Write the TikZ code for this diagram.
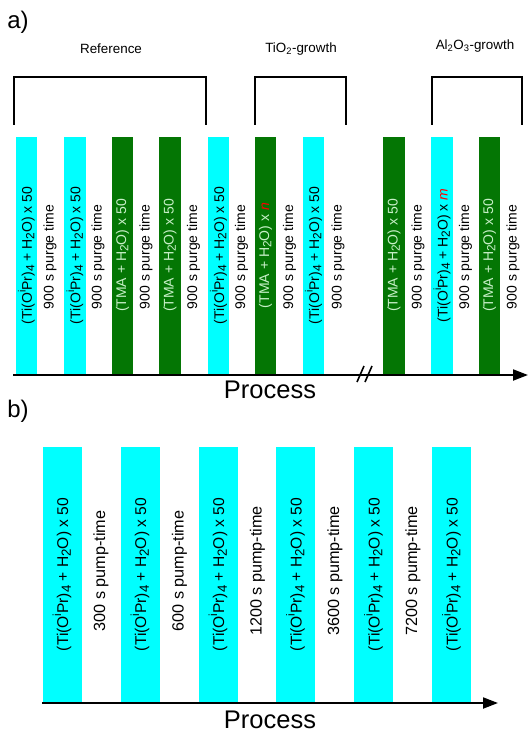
\documentclass[tikz,border=0pt]{standalone}
\usepackage{fontspec}
\setmainfont{Liberation Sans}
\usetikzlibrary{arrows.meta}
\definecolor{barcyan}{RGB}{0,255,255}
\definecolor{bargreen}{RGB}{4,118,4}
\definecolor{palegreen}{RGB}{200,240,200}
% chemical formula scripts, set fairly large
\newcommand{\lowsc}[1]{\raisebox{-0.32ex}{\scalebox{0.85}{#1}}}
\newcommand{\highsc}[1]{\raisebox{0.85ex}{\scalebox{0.75}{#1}}}
\newcommand{\tiprec}{(Ti(O\highsc{i}Pr)\lowsc{4} + H\lowsc{2}O)}
\newcommand{\tmaprec}{(TMA + H\lowsc{2}O)}
\newcommand{\cyc}[1]{\textcolor{red}{\textit{#1}}}
\tikzset{
  smallfont/.style={font=\fontsize{14}{16}\selectfont},
  largefont/.style={font=\fontsize{15.6}{18}\selectfont},
  cyanbar/.style={fill=barcyan, draw=none, rotate=90, inner sep=0pt, smallfont},
  greenbar/.style={fill=bargreen, draw=none, text=palegreen, rotate=90, inner sep=0pt, smallfont},
  topbar/.style={minimum width=237pt, minimum height=21.5pt},
  lowbar/.style={fill=barcyan, draw=none, rotate=90, inner sep=0pt, largefont,
                 minimum width=255pt, minimum height=39pt},
  gaplabel/.style={rotate=90, inner sep=0pt, smallfont},
  lowgap/.style={rotate=90, inner sep=0pt, font=\fontsize{16.2}{19}\selectfont},
  grouplabel/.style={inner sep=0pt, font=\fontsize{13.4}{16}\selectfont},
  bracket/.style={draw=black, line width=1.4pt},
  axisline/.style={draw=black, line width=2pt, -{Triangle[length=15pt, width=11pt]}},
  panel/.style={inner sep=0pt, font=\fontsize{24}{28}\selectfont},
  axislabel/.style={inner sep=0pt, font=\fontsize{25.5}{30}\selectfont}
}
\begin{document}
\begin{tikzpicture}[x=1pt, y=-1pt]
\useasboundingbox (0,0) rectangle (529,733);
\fill[white] (0,0) rectangle (529,733);

% ---------- panel a ----------
\node[panel] (pa) at (18,22) {a)};

% group labels and brackets
\node[grouplabel] (lref) at (111,49) {Reference};
\node[grouplabel] (ltio) at (301,49) {TiO\textsubscript{2}-growth};
\node[grouplabel] (lalo) at (475,46) {Al\textsubscript{2}O\textsubscript{3}-growth};
\coordinate (refL) at (14,125);  \coordinate (refR) at (206,125);
\coordinate (tioL) at (255,125); \coordinate (tioR) at (346,125);
\coordinate (aloL) at (432,125); \coordinate (aloR) at (522,125);
\draw[bracket] (refL) -- ++(0,-48) -| (refR);
\draw[bracket] (tioL) -- ++(0,-48) -| (tioR);
\draw[bracket] (aloL) -- ++(0,-48) -| (aloR);

% deposition steps
\node[cyanbar, topbar]  (s1)  at (26.5,255.5)  {\tiprec{} x 50};
\node[gaplabel]         (g1)  at (50,257)      {900 s purge time};
\node[cyanbar, topbar]  (s2)  at (75,255.5)    {\tiprec{} x 50};
\node[gaplabel]         (g2)  at (98,257)      {900 s purge time};
\node[greenbar, topbar] (s3)  at (122.5,255.5) {\tmaprec{} x 50};
\node[gaplabel]         (g3)  at (146,257)     {900 s purge time};
\node[greenbar, topbar] (s4)  at (170,255.5)   {\tmaprec{} x 50};
\node[gaplabel]         (g4)  at (193.5,257)   {900 s purge time};
\node[cyanbar, topbar]  (s5)  at (218.5,255.5) {\tiprec{} x 50};
\node[gaplabel]         (g5)  at (241.5,257)   {900 s purge time};
\node[greenbar, topbar] (s6)  at (265.5,255.5) {\tmaprec{} x \cyc{n}};
\node[gaplabel]         (g6)  at (289.5,257)   {900 s purge time};
\node[cyanbar, topbar]  (s7)  at (313.5,255.5) {\tiprec{} x 50};
\node[gaplabel]         (g7)  at (338,257)     {900 s purge time};
\node[greenbar, topbar] (s8)  at (394,255.5)   {\tmaprec{} x 50};
\node[gaplabel]         (g8)  at (418,257)     {900 s purge time};
\node[cyanbar, topbar]  (s9)  at (442,255.5)   {\tiprec{} x \cyc{m}};
\node[gaplabel]         (g9)  at (465.5,257)   {900 s purge time};
\node[greenbar, topbar] (s10) at (489.5,255.5) {\tmaprec{} x 50};
\node[gaplabel]         (g10) at (513,257)     {900 s purge time};

% time axis with break mark
\coordinate (ax0) at (13,375);
\coordinate (ax1) at (528,375);
\draw[axisline] (ax0) -- (ax1);
\coordinate (brk1a) at (357,382); \coordinate (brk1b) at (364,366);
\coordinate (brk2a) at (365,382); \coordinate (brk2b) at (372,366);
\draw[line width=1.6pt] (brk1a) -- (brk1b);
\draw[line width=1.6pt] (brk2a) -- (brk2b);
\node[axislabel] (pra) at (270,390) {Process};

% ---------- panel b ----------
\node[panel] (pb) at (18,411) {b)};

\node[lowbar] (t1) at (62,574.5)    {\tiprec{} x 50};
\node[lowgap] (h1) at (101,571)     {300 s pump-time};
\node[lowbar] (t2) at (140,574.5)   {\tiprec{} x 50};
\node[lowgap] (h2) at (179.5,571)   {600 s pump-time};
\node[lowbar] (t3) at (218,574.5)   {\tiprec{} x 50};
\node[lowgap] (h3) at (257.5,571)   {1200 s pump-time};
\node[lowbar] (t4) at (295.5,574.5) {\tiprec{} x 50};
\node[lowgap] (h4) at (335,571)     {3600 s pump-time};
\node[lowbar] (t5) at (373.5,574.5) {\tiprec{} x 50};
\node[lowgap] (h5) at (413,571)     {7200 s pump-time};
\node[lowbar] (t6) at (451.5,574.5) {\tiprec{} x 50};

\coordinate (bx0) at (42,703);
\coordinate (bx1) at (498,703);
\draw[axisline] (bx0) -- (bx1);
\node[axislabel] (prb) at (270,719.5) {Process};
\end{tikzpicture}
\end{document}
